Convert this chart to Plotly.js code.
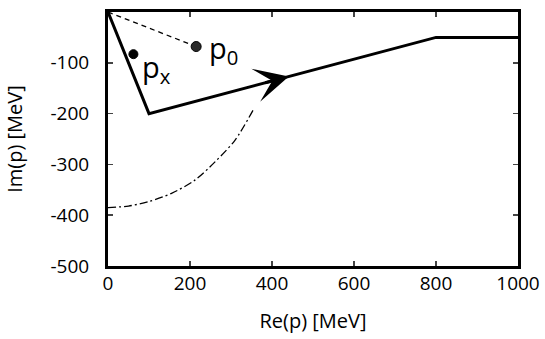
<!DOCTYPE html>
<html>
<head>
<meta charset="utf-8">
<script src="https://cdn.plot.ly/plotly-3.0.1.min.js"></script>
<style>
  html, body { margin: 0; padding: 0; background: #fff; }
  #chart { width: 545px; height: 339px; }
</style>
</head>
<body>
<div id="chart"></div>
<script>
// Integration contour in the complex momentum plane
const contourRe = [0, 100, 800, 1000];
const contourIm = [0, -200, -50, -50];

// Dashed ray from origin to p0
const rayRe = [0, 215];
const rayIm = [0, -68];

// Dash-dot curve
const curveRe = [0, 50, 100, 155, 212, 261, 310, 354];
const curveIm = [-385, -382, -373, -357, -331, -295, -252, -193];

// Points
const pointRe = [215, 62];
const pointIm = [-68, -83];
const pointLabels = ['p<sub>0</sub>', 'p<sub>x</sub>'];

// Arrow on the contour (tip and a point behind it)
const arrowTip = [441, -127];
const arrowTail = [380, -140];

// Tick labels
const xTicks = [0, 200, 400, 600, 800, 1000];
const xTickText = ['0', '200', '400', '600', '800', '1000'];
const yTicks = [0, -100, -200, -300, -400, -500];
const yTickText = ['0', '-100', '-200', '-300', '-400', '-500'];

const tickFont = {family: 'Open Sans, sans-serif', size: 19, color: '#000'};
const titleFont = {family: 'Open Sans, sans-serif', size: 20, color: '#000'};

const traces = [
    {
        x: contourRe, y: contourIm,
        mode: 'lines', type: 'scatter',
        line: {color: '#000', width: 3},
        hoverinfo: 'skip'
    },
    {
        x: rayRe, y: rayIm,
        mode: 'lines', type: 'scatter',
        line: {color: '#000', width: 1.3, dash: '5px,4px'},
        hoverinfo: 'skip'
    },
    {
        x: curveRe, y: curveIm,
        mode: 'lines', type: 'scatter',
        line: {color: '#000', width: 1.3, dash: '8px,3px,2px,3px', shape: 'spline', smoothing: 0.8},
        hoverinfo: 'skip'
    },
    {
        x: pointRe, y: pointIm,
        mode: 'markers', type: 'scatter',
        marker: {color: ['#2a2a2a', '#000'], size: [10, 9], opacity: 1, line: {color: '#000', width: 1}},
        hoverinfo: 'skip'
    }
];

const annotations = pointLabels.map((t, i) => ({
    x: pointRe[i], y: pointIm[i],
    xref: 'x', yref: 'y',
    text: t,
    showarrow: false,
    xanchor: 'left',
    xshift: i === 0 ? 11 : 7,
    yshift: i === 0 ? -3 : -14,
    font: {family: 'Open Sans, sans-serif', size: 29, color: '#000'}
}));

annotations.push({
    x: arrowTip[0], y: arrowTip[1],
    ax: arrowTail[0], ay: arrowTail[1],
    xref: 'x', yref: 'y', axref: 'x', ayref: 'y',
    text: '',
    showarrow: true,
    arrowhead: 3,
    arrowwidth: 3,
    arrowsize: 1.9,
    arrowcolor: '#000'
});

const layout = {
    width: 545,
    height: 339,
    margin: {l: 108, r: 27, t: 12, b: 73},
    showlegend: false,
    paper_bgcolor: '#fff',
    plot_bgcolor: '#fff',
    font: tickFont,
    xaxis: {
        range: [0, 1000],
        tickvals: xTicks,
        ticktext: xTickText,
        ticks: 'inside',
        ticklen: 5,
        tickwidth: 1.5,
        showline: true,
        linewidth: 3,
        linecolor: '#000',
        mirror: 'ticks',
        showgrid: false,
        zeroline: false,
        tickfont: tickFont,
        ticklabelstandoff: -2,
        title: {text: 'Re(p) [MeV]', font: titleFont, standoff: 20}
    },
    yaxis: {
        range: [-500, 0],
        tickvals: yTicks,
        ticktext: yTickText,
        ticks: 'inside',
        ticklen: 5,
        tickwidth: 1.5,
        showline: true,
        linewidth: 3,
        linecolor: '#000',
        mirror: 'ticks',
        showgrid: false,
        zeroline: false,
        tickfont: tickFont,
        ticklabelstandoff: 12,
        title: {text: 'Im(p) [MeV]', font: titleFont, standoff: 23}
    },
    annotations: annotations
};

Plotly.newPlot('chart', traces, layout, {displayModeBar: false, staticPlot: true});
</script>
</body>
</html>
